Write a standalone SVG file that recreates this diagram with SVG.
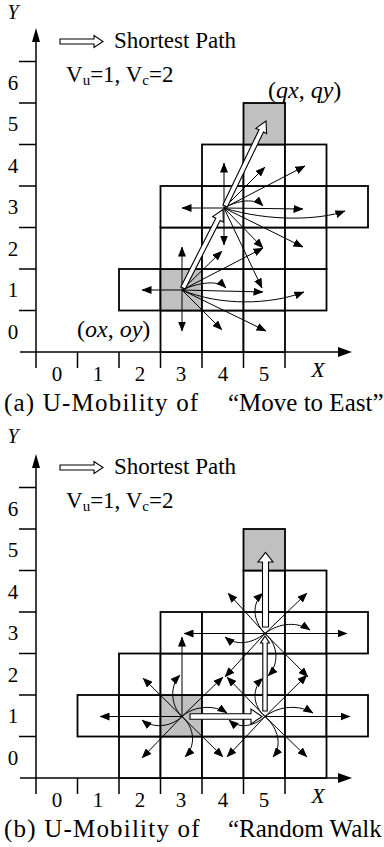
<svg xmlns="http://www.w3.org/2000/svg" width="384" height="847" viewBox="0 0 384 847">
<defs>
<style>
.t{font-family:"Liberation Serif","Times New Roman",serif;fill:#000}
.i{font-style:italic}
.cap{font-size:25px}
.cell{fill:#fff;stroke:#000;stroke-width:1.8}
.gray{fill:#c0c0c0;stroke:#000;stroke-width:1.8}
.ax{stroke:#000;stroke-width:1.5;fill:none}
.a{stroke:#000;stroke-width:1;fill:none;marker-end:url(#ah)}
.sp{fill:#fff;stroke:#000;stroke-width:1.1;stroke-linejoin:miter}
</style>
<marker id="ah" viewBox="0 0 10 8" refX="9.5" refY="4" markerWidth="10" markerHeight="8" orient="auto" markerUnits="userSpaceOnUse"><path d="M0,0 L10,4 L0,8 z" fill="#000"/></marker>
</defs>
<rect width="384" height="847" fill="#fff"/>

<!-- ================= (a) ================= -->
<g id="panel-a">
<g id="axes-a">
<line class="ax" x1="36" y1="40" x2="36" y2="368"/>
<polygon points="36,28 32,42 40,42" fill="#000"/>
<line class="ax" x1="20" y1="352" x2="340" y2="352"/>
<polygon points="352,352 338,347 338,357" fill="#000"/>
<path class="ax" d="M19,61.5H36M19,103H36M19,144.5H36M19,186H36M19,227.5H36M19,269H36M19,310.5H36"/>
<path class="ax" d="M77.5,352V368M119,352V368M160.5,352V368M202,352V368M243.5,352V368M285,352V368"/>
<text class="t i" x="13" y="19" font-size="20" text-anchor="middle">Y</text>
<g class="t" font-size="21" text-anchor="middle">
<text x="13" y="90">6</text><text x="13" y="131">5</text><text x="13" y="172.5">4</text><text x="13" y="214">3</text><text x="13" y="255.5">2</text><text x="13" y="297">1</text><text x="13" y="338.5">0</text>
<text x="57" y="381">0</text><text x="98" y="381">1</text><text x="140" y="381">2</text><text x="181" y="381">3</text><text x="223" y="381">4</text><text x="264" y="381">5</text>
</g>
<text class="t i" x="318" y="377" font-size="22" text-anchor="middle">X</text>
</g>
<g id="legend-a">
<path class="sp" d="M60,39 H94 V35.5 L103,41.5 L94,47.5 V44 H60 Z"/>
<text class="t" x="114" y="48" font-size="23">Shortest Path</text>
<text class="t" x="66" y="82" font-size="23">V<tspan font-size="15" dy="3">u</tspan><tspan dy="-3">=1, V</tspan><tspan font-size="15" dy="3">c</tspan><tspan dy="-3">=2</tspan></text>
</g>
<g id="grid-a">
<rect class="cell" x="160.5" y="310.5" width="41.5" height="41.5"/><rect class="cell" x="202" y="310.5" width="41.5" height="41.5"/><rect class="cell" x="243.5" y="310.5" width="41.5" height="41.5"/>
<rect class="cell" x="119" y="269" width="41.5" height="41.5"/><rect class="gray" x="160.5" y="269" width="41.5" height="41.5"/><rect class="cell" x="202" y="269" width="41.5" height="41.5"/><rect class="cell" x="243.5" y="269" width="41.5" height="41.5"/><rect class="cell" x="285" y="269" width="41.5" height="41.5"/>
<rect class="cell" x="160.5" y="227.5" width="41.5" height="41.5"/><rect class="cell" x="202" y="227.5" width="41.5" height="41.5"/><rect class="cell" x="243.5" y="227.5" width="41.5" height="41.5"/><rect class="cell" x="285" y="227.5" width="41.5" height="41.5"/>
<rect class="cell" x="160.5" y="186" width="41.5" height="41.5"/><rect class="cell" x="202" y="186" width="41.5" height="41.5"/><rect class="cell" x="243.5" y="186" width="41.5" height="41.5"/><rect class="cell" x="285" y="186" width="41.5" height="41.5"/><rect class="cell" x="326.5" y="186" width="41.5" height="41.5"/>
<rect class="cell" x="202" y="144.5" width="41.5" height="41.5"/><rect class="cell" x="243.5" y="144.5" width="41.5" height="41.5"/><rect class="cell" x="285" y="144.5" width="41.5" height="41.5"/>
<rect class="gray" x="243.5" y="103" width="41.5" height="41.5"/>
</g>
<text class="t" x="268" y="98" font-size="24">(<tspan class="i">qx</tspan>, <tspan class="i">qy</tspan>)</text>
<text class="t" x="77" y="337" font-size="24">(<tspan class="i">ox</tspan>, <tspan class="i">oy</tspan>)</text>
<g id="moves-a">
<path class="a" d="M182,290 L142,290"/>
<path class="a" d="M182,290 L182,247"/>
<path class="a" d="M182,290 L182,331"/>
<path class="a" d="M182,290 C200,282 218,280 226,288"/>
<path class="a" d="M182,290 L263,292"/>
<path class="a" d="M182,290 C220,306 270,305 304,292"/>
<path class="a" d="M182,290 L222,330"/>
<path class="a" d="M182,290 L266,331"/>
<path class="a" d="M182,290 L222,251"/>
<path class="a" d="M182,290 L263,248"/>
<path class="a" d="M224,208 L182,208"/>
<path class="a" d="M224,208 L224,163"/>
<path class="a" d="M224,208 L224,245"/>
<path class="a" d="M224,208 C238,200 255,198 263,206"/>
<path class="a" d="M224,208 L303,209"/>
<path class="a" d="M224,208 C270,222 320,220 345,211"/>
<path class="a" d="M224,208 L265,167"/>
<path class="a" d="M224,208 L305,166"/>
<path class="a" d="M224,208 L263,248"/>
<path class="a" d="M224,208 L303,247"/>
<path class="a" d="M224,208 L262,288"/>
</g>
<g id="path-a">
<path class="sp" d="M185.2,289.1 L220.2,220.4 L223.3,222 L223,209.5 L212.7,216.6 L215.8,218.2 L180.8,286.9 Z"/>
<path class="sp" d="M227.3,207.1 L263.5,132 L266.6,133.5 L266,121 L255.8,128.3 L259,129.8 L222.8,204.9 Z"/>
</g>
<text class="t cap" x="4" y="411" letter-spacing="1.2">(a) U-Mobility of</text>
<text class="t cap" x="228" y="411">“Move to East”</text>
</g>

<!-- ================= (b) ================= -->
<g id="panel-b" transform="translate(0,426)">
<g id="axes-b">
<line class="ax" x1="36" y1="40" x2="36" y2="368"/>
<polygon points="36,28 32,42 40,42" fill="#000"/>
<line class="ax" x1="20" y1="352" x2="340" y2="352"/>
<polygon points="352,352 338,347 338,357" fill="#000"/>
<path class="ax" d="M19,61.5H36M19,103H36M19,144.5H36M19,186H36M19,227.5H36M19,269H36M19,310.5H36"/>
<path class="ax" d="M77.5,352V368M119,352V368M160.5,352V368M202,352V368M243.5,352V368M285,352V368"/>
<text class="t i" x="13" y="17" font-size="20" text-anchor="middle">Y</text>
<g class="t" font-size="21" text-anchor="middle">
<text x="13" y="90">6</text><text x="13" y="131">5</text><text x="13" y="172.5">4</text><text x="13" y="214">3</text><text x="13" y="255.5">2</text><text x="13" y="297">1</text><text x="13" y="338.5">0</text>
<text x="57" y="381">0</text><text x="98" y="381">1</text><text x="140" y="381">2</text><text x="181" y="381">3</text><text x="223" y="381">4</text><text x="264" y="381">5</text>
</g>
<text class="t i" x="318" y="377" font-size="22" text-anchor="middle">X</text>
</g>
<g id="legend-b">
<path class="sp" d="M60,39 H94 V35.5 L103,41.5 L94,47.5 V44 H60 Z"/>
<text class="t" x="114" y="48" font-size="23">Shortest Path</text>
<text class="t" x="66" y="82" font-size="23">V<tspan font-size="15" dy="3">u</tspan><tspan dy="-3">=1, V</tspan><tspan font-size="15" dy="3">c</tspan><tspan dy="-3">=2</tspan></text>
</g>
<g id="grid-b">
<rect class="cell" x="119" y="310.5" width="41.5" height="41.5"/><rect class="cell" x="160.5" y="310.5" width="41.5" height="41.5"/><rect class="cell" x="202" y="310.5" width="41.5" height="41.5"/><rect class="cell" x="243.5" y="310.5" width="41.5" height="41.5"/><rect class="cell" x="285" y="310.5" width="41.5" height="41.5"/>
<rect class="cell" x="77.5" y="269" width="41.5" height="41.5"/><rect class="cell" x="119" y="269" width="41.5" height="41.5"/><rect class="gray" x="160.5" y="269" width="41.5" height="41.5"/><rect class="cell" x="202" y="269" width="41.5" height="41.5"/><rect class="cell" x="243.5" y="269" width="41.5" height="41.5"/><rect class="cell" x="285" y="269" width="41.5" height="41.5"/><rect class="cell" x="326.5" y="269" width="41.5" height="41.5"/>
<rect class="cell" x="119" y="227.5" width="41.5" height="41.5"/><rect class="cell" x="160.5" y="227.5" width="41.5" height="41.5"/><rect class="cell" x="202" y="227.5" width="41.5" height="41.5"/><rect class="cell" x="243.5" y="227.5" width="41.5" height="41.5"/><rect class="cell" x="285" y="227.5" width="41.5" height="41.5"/>
<rect class="cell" x="160.5" y="186" width="41.5" height="41.5"/><rect class="cell" x="202" y="186" width="41.5" height="41.5"/><rect class="cell" x="243.5" y="186" width="41.5" height="41.5"/><rect class="cell" x="285" y="186" width="41.5" height="41.5"/><rect class="cell" x="326.5" y="186" width="41.5" height="41.5"/>
<rect class="cell" x="243.5" y="144.5" width="41.5" height="41.5"/><rect class="cell" x="285" y="144.5" width="41.5" height="41.5"/>
<rect class="gray" x="243.5" y="103" width="41.5" height="41.5"/>
</g>
<g id="moves-b">
<path class="a" d="M182,290.5 L100,290.5"/>
<path class="a" d="M182,290.5 C170,302 152,302 142,294"/>
<path class="a" d="M182,290.5 L142,332"/>
<path class="a" d="M182,290.5 L143,252"/>
<path class="a" d="M182,290.5 L223,251"/>
<path class="a" d="M182,290.5 L223,331"/>
<path class="a" d="M182,290.5 C170,279 170,259 180,249"/>
<path class="a" d="M182,290.5 C195,302 196,320 185,331"/>
<path class="a" d="M182,290.5 C195,279 215,279 227,287"/>
<path class="a" d="M182,290.5 L182,211"/>
<path class="a" d="M265,290.5 L350,290.5"/>
<path class="a" d="M265,290.5 C280,279 300,279 313,287"/>
<path class="a" d="M265,290.5 C252,302 238,302 229,294"/>
<path class="a" d="M265,290.5 L307,331"/>
<path class="a" d="M265,290.5 L227,331"/>
<path class="a" d="M265,290.5 L307,249"/>
<path class="a" d="M265,290.5 L227,251"/>
<path class="a" d="M265,290.5 C279,303 282,320 273,331"/>
<path class="a" d="M265,290.5 C252,279 252,262 263,252"/>
<path class="a" d="M265,207.5 L184,207.5"/>
<path class="a" d="M265,207.5 L347,207.5"/>
<path class="a" d="M265,207.5 C250,219 235,219 225,211"/>
<path class="a" d="M265,207.5 C280,196 298,196 310,204"/>
<path class="a" d="M265,207.5 L228,167"/>
<path class="a" d="M265,207.5 L307,167"/>
<path class="a" d="M265,207.5 L225,251"/>
<path class="a" d="M265,207.5 L308,251"/>
<path class="a" d="M265,207.5 C252,194 252,177 263,167"/>
<path class="a" d="M265,207.5 C279,219 279,239 268,250"/>
</g>
<g id="path-b">
<path class="sp" d="M190,287.7 H251 V283 L262,290.5 L251,298 V293.3 H190 Z"/>
<path class="sp" d="M262.8,285 V217 H260.5 L265,210 L269.5,217 H267.2 V285 Z"/>
<path class="sp" d="M262.5,201 V136 H258 L265.5,126.5 L273,136 H268.5 V201 Z"/>
</g>
<text class="t cap" x="4" y="411" letter-spacing="1.2">(b) U-Mobility of</text>
<text class="t cap" x="228" y="411">“Random Walk</text>
</g>
</svg>
